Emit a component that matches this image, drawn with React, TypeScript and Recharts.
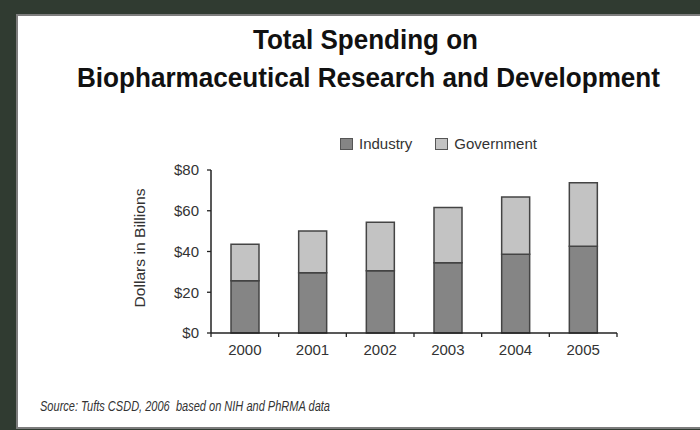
import { BarChart, Bar, XAxis, YAxis, Legend } from 'recharts'

const years = ['2000', '2001', '2002', '2003', '2004', '2005']
const industry = [25.6, 29.6, 30.5, 34.5, 38.6, 42.6]
const government = [17.9, 20.5, 23.9, 27.1, 28.2, 31.1]
const yTicks = [0, 20, 40, 60, 80]

const series = [
  { key: 'industry', name: 'Industry', color: '#858585' },
  { key: 'government', name: 'Government', color: '#c3c3c3' },
]

const data = years.map((year, i) => ({
  year,
  industry: industry[i],
  government: government[i],
}))

const FONT = '"Liberation Sans", Arial, sans-serif'

// category ticks: label in the middle, tick marks on the band edges
const XTick = (props: any) => {
  const { x, y, payload } = props
  const off = payload.offset ?? 0
  const last = payload.index === years.length - 1
  return (
    <g>
      <line x1={x - off} x2={x - off} y1={y - 5} y2={y - 1} stroke="#222" strokeWidth={1.3} />
      {last && <line x1={x + off} x2={x + off} y1={y - 5} y2={y - 1} stroke="#222" strokeWidth={1.3} />}
      <text x={x} y={y + 17} textAnchor="middle" fill="#333" fontSize={15}>
        {payload.value}
      </text>
    </g>
  )
}

const LegendContent = () => (
  <div style={{ display: 'flex', alignItems: 'center', fontSize: 15, color: '#333', lineHeight: '15px' }}>
    {series.map((s) => (
      <div key={s.key} style={{ display: 'flex', alignItems: 'center', marginRight: 23 }}>
        <span
          style={{
            display: 'inline-block',
            width: 13,
            height: 12,
            boxSizing: 'border-box',
            background: s.color,
            border: '1.5px solid #555',
            marginRight: 6,
          }}
        />
        <span>{s.name}</span>
      </div>
    ))}
  </div>
)

export default function App() {
  return (
    <div
      style={{
        position: 'absolute',
        left: 0,
        top: 0,
        width: 700,
        height: 430,
        background: '#303b31',
        fontFamily: FONT,
        overflow: 'hidden',
      }}
    >
      <div
        style={{
          position: 'absolute',
          left: 16,
          top: 14,
          width: 700,
          height: 411,
          background: '#fff',
          borderLeft: '2px solid #7d7d7d',
          borderTop: '2px solid #7d7d7d',
          borderBottom: '2px solid #7d7d7d',
        }}
      />
      <div style={{ position: 'absolute', left: 0, top: 0 }}>
        <BarChart
          width={700}
          height={430}
          data={data}
          margin={{ top: 170, right: 83, bottom: 67, left: 151 }}
        >
          <XAxis
            dataKey="year"
            height={30}
            tickLine={false}
            tickSize={5}
            tickMargin={0}
            axisLine={{ stroke: '#222', strokeWidth: 1.5 }}
            tick={<XTick />}
            interval={0}
          />
          <YAxis
            width={60}
            domain={[0, 80]}
            ticks={yTicks}
            tickSize={4}
            tickMargin={8}
            tickFormatter={(v: number) => `$${v}`}
            axisLine={{ stroke: '#222', strokeWidth: 1.5 }}
            tickLine={{ stroke: '#222', strokeWidth: 1.3 }}
            tick={{ fill: '#333', fontSize: 15 }}
          />
          <Legend
            layout="horizontal"
            verticalAlign="middle"
            align="center"
            content={<LegendContent />}
            wrapperStyle={{ position: 'absolute', left: 340, top: 136, width: 'auto' }}
          />
          {series.map((s) => (
            <Bar
              key={s.key}
              dataKey={s.key}
              name={s.name}
              stackId="a"
              fill={s.color}
              stroke="#444"
              strokeWidth={1.5}
              barSize={28}
              isAnimationActive={false}
            />
          ))}
        </BarChart>
      </div>
      <svg
        width={700}
        height={430}
        style={{ position: 'absolute', left: 0, top: 0, pointerEvents: 'none' }}
      >
        <text x={253} y={49} fontSize={27} fontWeight="bold" fill="#111" textLength={225} lengthAdjust="spacingAndGlyphs">
          Total Spending on
        </text>
        <text x={77} y={86.5} fontSize={27} fontWeight="bold" fill="#111" textLength={583} lengthAdjust="spacingAndGlyphs">
          Biopharmaceutical Research and Development
        </text>
        <text
          transform="translate(145 248) rotate(-90)"
          textAnchor="middle"
          fontSize={15}
          fill="#333"
          textLength={119}
          lengthAdjust="spacingAndGlyphs"
        >
          Dollars in Billions
        </text>
        <text
          x={40}
          y={410.5}
          fontSize={14.5}
          fontStyle="italic"
          fill="#333"
          textLength={290}
          lengthAdjust="spacingAndGlyphs"
          style={{ whiteSpace: 'pre' }}
        >
          {'Source: Tufts CSDD, 2006  based on NIH and PhRMA data'}
        </text>
      </svg>
    </div>
  )
}
